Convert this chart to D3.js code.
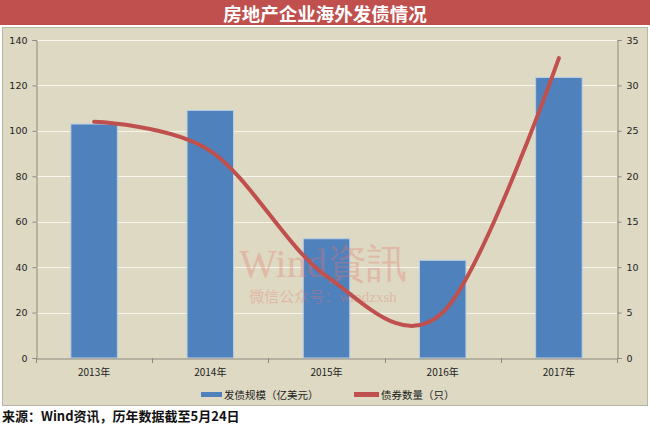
<!DOCTYPE html>
<html><head><meta charset="utf-8">
<script src="https://cdn.jsdelivr.net/npm/d3@7"></script>
<style>body{margin:0;background:#fff;}svg{display:block;}</style>
</head><body>
<svg id="c" width="650" height="428"></svg>
<script>
const categories = ["2013年","2014年","2015年","2016年","2017年"];
const issueAmount = [103, 109, 52.5, 43, 123.5];   // 发债规模（亿美元）
const bondCount = [26, 22.8, 9, 5, 33];             // 债券数量（只）
const leftTicks = [0,20,40,60,80,100,120,140];
const rightTicks = [0,5,10,15,20,25,30,35];
const titleText = "房地产企业海外发债情况";
const legendLabels = ["发债规模（亿美元）","债券数量（只）"];
const sourceText = "来源：Wind资讯，历年数据截至5月24日";

const svg = d3.select("#c");
const cjk = "'Noto Sans CJK SC','DejaVu Sans',sans-serif";
const axisFont = "'DejaVu Sans',sans-serif";

// title bar
svg.append("rect").attr("x",0).attr("y",0).attr("width",650).attr("height",25).attr("fill","#c0504d");
svg.append("text").attr("x",325).attr("y",21).attr("text-anchor","middle")
  .attr("fill","#fff").attr("font-family",cjk).attr("font-weight","bold").attr("font-size",18.5).text(titleText);

// chart area
svg.append("rect").attr("x",2.5).attr("y",27.5).attr("width",645).attr("height",378)
  .attr("fill","#ddd9c3").attr("stroke","#b8b5a5").attr("stroke-width",1);

const L = 36, R = 617, T = 40, B = 358;
const x = d3.scaleBand().domain(categories).range([L,R]);
const yL = d3.scaleLinear().domain([0,140]).range([B,T]);
const yR = d3.scaleLinear().domain([0,35]).range([B,T]);

// gridlines
svg.append("g").selectAll("line").data(leftTicks.filter(d=>d>0)).join("line")
  .attr("x1",L).attr("x2",R).attr("y1",d=>Math.round(yL(d))+0.5).attr("y2",d=>Math.round(yL(d))+0.5)
  .attr("stroke","#f7f5ec").attr("stroke-width",1.2);

// left axis
const gL = svg.append("g").attr("transform",`translate(${L+0.5},0)`)
  .call(d3.axisLeft(yL).tickValues(leftTicks).tickSize(4).tickPadding(5).tickFormat(d3.format("d")));
// right axis
const gR = svg.append("g").attr("transform",`translate(${R+0.5},0)`)
  .call(d3.axisRight(yR).tickValues(rightTicks).tickSize(4).tickPadding(5).tickFormat(d3.format("d")));
[gL,gR].forEach(g=>{
  g.select(".domain").attr("stroke","#8c8a80");
  g.selectAll(".tick line").attr("stroke","#8c8a80");
  g.selectAll("text").attr("font-family",axisFont).attr("font-size",9.5).attr("fill","#222");
});

// bars
const bw = x.bandwidth()*0.4;
svg.append("g").selectAll("rect").data(issueAmount).join("rect")
  .attr("x",(d,i)=>x(categories[i])+x.bandwidth()/2-bw/2)
  .attr("y",d=>yL(d)).attr("width",bw).attr("height",d=>B-yL(d))
  .attr("fill","#4f81bd").attr("stroke","#b9cde5").attr("stroke-width",1);

// category axis
const gX = svg.append("g").attr("transform",`translate(0,${B+0.5})`)
  .call(d3.axisBottom(x).tickSize(0).tickPadding(10));
gX.select(".domain").attr("stroke","#8c8a80");
gX.selectAll("text").attr("font-family",cjk).attr("font-size",10).attr("fill","#222");
svg.append("g").selectAll("line").data(d3.range(categories.length+1)).join("line")
  .attr("x1",i=>Math.round(L+i*x.step())+0.5).attr("x2",i=>Math.round(L+i*x.step())+0.5)
  .attr("y1",B).attr("y2",B+5).attr("stroke","#8c8a80");

// watermark
const wm = svg.append("g").attr("opacity",0.32).attr("fill","#e8746a");
wm.append("text").attr("x",323).attr("y",277).attr("text-anchor","middle")
  .attr("font-family","'Liberation Serif',serif").attr("font-size",40).text("Wind資訊");
wm.append("text").attr("x",323).attr("y",302).attr("text-anchor","middle")
  .attr("font-family","'Liberation Serif','Noto Sans CJK SC',serif").attr("font-size",15).text("微信公众号：windzxsh");

// line
const line = d3.line().x((d,i)=>x(categories[i])+x.bandwidth()/2).y(d=>yR(d)).curve(d3.curveCardinal.tension(0));
svg.append("path").datum(bondCount).attr("d",line).attr("fill","none")
  .attr("stroke","#c0504d").attr("stroke-width",4).attr("stroke-linecap","round");

// legend
const lg = svg.append("g");
lg.append("rect").attr("x",201).attr("y",392).attr("width",21).attr("height",5).attr("fill","#4f81bd");
lg.append("text").attr("x",224).attr("y",399).attr("font-family",cjk).attr("font-size",10.5).attr("fill","#222").text(legendLabels[0]);
lg.append("rect").attr("x",354).attr("y",392).attr("width",25).attr("height",5).attr("fill","#c0504d");
lg.append("text").attr("x",381).attr("y",399).attr("font-family",cjk).attr("font-size",10.5).attr("fill","#222").text(legendLabels[1]);

// source
svg.append("text").attr("x",2).attr("y",421).attr("font-family",cjk).attr("font-weight","bold")
  .attr("font-size",13).attr("fill","#111").text(sourceText);
</script>
</body></html>
